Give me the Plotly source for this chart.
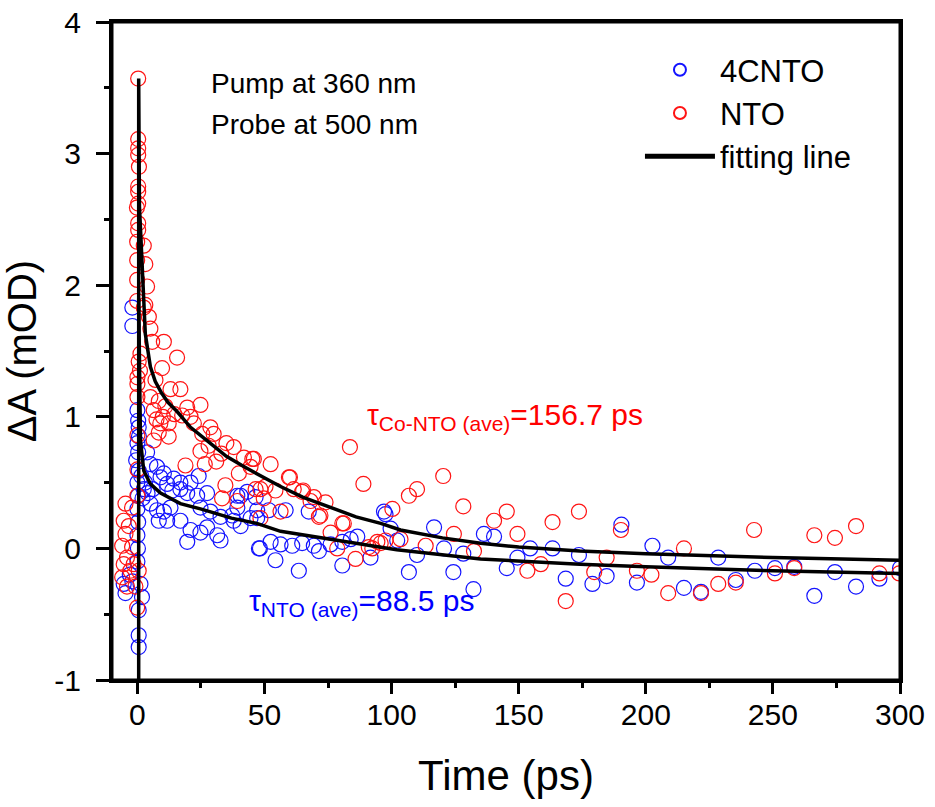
import plotly.graph_objects as go

# ---------------- data ----------------
nto_t = [-6, -6, -5.4, -5.4, -4.7, -4.7, -4.1, -4.1, -3.4, -2.8, -2.1, -2.1, -1.5, -0.8, -0.1, 0.5,
         0.3, 0.3, 0.3, 0.3, 0.6, 0.3, 0.3, 0.3, -0.2, 0.3, 0.3, 2.5, -0.1, 3.1, -0.1, 3.8, -0.1, 2.5, -0.1, 4.5,
         3.1, 5.1, 10.4, 15.6, 5.8, 1.2, 9.7, 7.1, 13, 16.9, 0, 0, 0, 0.5, 1,
         5.1, 6.4, 8.4, 10, 11, 12.3, 14.5, 9, 7.5,
         19.6, 24.8, 20.9, 17.6, 22.2, 25.5, 28.7, 30, 12.3, 8.4, 6.4, 24.8, 18.9, 37.9, 41.9, 45.8, 0, 0, 0,
         33, 35, 31, 28, 26.5,
         45.2, 52.4, 39.9, 44.5, 59.6, 46.5, 50.4, 54.3, 49.7, 56.3, 61.5, 64.8, 68.1, 74, 71.4, 48.4,
         80.6, 76, 78.6, 85.8, 91, 94.4, 97.6, 100.3, 83.6, 88.9, 34.6, 39.3, 33.3, 48.4,
         60, 120.3, 65.2, 106.8, 110, 128.2, 145.3, 173.7, 69.4, 72, 81.2, 92.4, 95.7, 103.5, 113.4,
         124.5, 132.4, 140.3, 149.5, 153.4, 158.7, 163.3, 168.5, 179.7,
         190.2, 242.6, 266.3, 274.4, 282.7, 215, 184.6, 196.5, 202.2, 208.8, 221.7, 228.5, 235.4,
         250.8, 258.4, 291.9, 299.7]
nto_y = [0.02, -0.22, 0.21, -0.12, 0.34, 0.11, -0.07, -0.29, 0.17, -0.17, 0.31, 0.01, -0.12, -0.29, -0.45, -0.17,
         3.57, 3.11, 3.04, 2.99, 2.90, 2.75, 2.71, 2.62, 2.59, 2.47, 2.42, 2.30, 2.33, 2.16, 2.19, 1.99, 2.04, 1.83, 1.88, 1.76,
         1.85, 1.67, 1.57, 1.45, 1.57, 1.48, 1.37, 1.28, 1.21, 1.21, 1.25, 1.30, 1.15, 1.42, 1.35,
         1.15, 1.05, 1.12, 1.00, 1.08, 0.95, 1.02, 0.95, 0.98,
         1.07, 1.09, 1.00, 1.01, 0.95, 0.87, 0.92, 0.87, 0.85, 0.88, 0.82, 0.74, 0.63, 0.77, 0.69, 0.68, 0.86, 0.60, 0.40,
         0.72, 0.80, 0.66, 0.78, 0.64,
         0.68, 0.64, 0.57, 0.62, 0.54, 0.45, 0.47, 0.44, 0.38, 0.28, 0.45, 0.43, 0.36, 0.35, 0.24, 0.23,
         0.19, 0.12, 0.00, -0.08, 0.01, 0.05, 0.06, 0.30, 0.77, 0.49, 0.48, 0.36, 0.38, 0.45,
         0.54, 0.55, 0.44, 0.40, 0.45, 0.32, 0.28, 0.28, 0.39, 0.25, 0.19, 0.00, 0.04, 0.07, 0.02,
         0.11, -0.02, 0.21, 0.11, -0.17, -0.12, 0.20, -0.40, -0.18,
         0.14, 0.14, 0.10, 0.08, 0.17, 0.00, -0.07, -0.17, -0.20, -0.34, -0.34, -0.27, -0.26,
         -0.19, -0.15, -0.19, -0.19]

cnto_t = [-5.4, -4.7, 1.2, 1.8, 0.5, 0.5, 0.5, -3, -2,
          -2, -2, 0, 0.3, 0.5, 0.6, 0, 0.3, -0.5, 0.5, 0, 0.2, 0, 0.3, 0, 0.2, 0,
          3.8, 5.1, 7.7, 10.4, 14.3, 16.9, 20.9, 24.1,
          9.1, 11.7, 13.7, 16.9, 19.6, 23.5, 27.4, 8.4, 11.7, 16.9, 20.9, 24.8, 27.4, 31.4, 32.7, 19.6,
          5.1, 7.7, 10.4, 13, 39.3, 43.2, 46.5, 47.1, 24.8, 28.7, 32.7, 37.9, 47.8,
          2.5, 3, 4, 6, 2, 1.5,
          40.6, 39.3, 37.3, 47.1, 51.7, 58.3, 44.5, 40.6, 52.4, 56.3, 60.9, 64.8, 69.4, 71.4, 76, 80.6, 83.9,
          48.2, 54.3, 63.5, 80.6, 97, 99.6, 102.2,
          67.4, 86.5, 91.7, 97.6, 106.8, 110, 116.7, 120.6, 124.3, 128.2, 132.2, 136.3, 140.3, 145.3,
          149.5, 154.5, 163.3, 168.5, 173.7, 179,
          190.4, 184.6, 196.5, 202.6, 208.8, 215, 221.7, 228.5, 235.4, 242.9, 250.8, 258.4, 266.3, 274.4,
          282.7, 291.9, 300]
cnto_y = [-0.27, -0.34, -0.27, -0.37, -0.47, -0.66, -0.75, -0.20, -0.25,
          1.83, 1.69, 1.05, 0.97, 0.92, 0.85, 0.80, 0.73, 0.67, 0.59, 0.50, 0.40, 0.30, 0.20, 0.10, 0.00, -0.10,
          0.73, 0.64, 0.62, 0.57, 0.53, 0.50, 0.50, 0.55,
          0.54, 0.49, 0.44, 0.45, 0.42, 0.40, 0.42, 0.21, 0.21, 0.21, 0.14, 0.12, 0.16, 0.10, 0.06, 0.05,
          0.34, 0.29, 0.28, 0.31, 0.40, 0.43, 0.39, 0.23, 0.31, 0.28, 0.24, 0.21, 0.00,
          0.45, 0.50, 0.42, 0.45, 0.38, 0.55,
          0.40, 0.31, 0.25, 0.29, 0.29, 0.29, 0.23, 0.17, 0.05, 0.03, 0.02, 0.04, 0.02, -0.02, 0.03, 0.05, 0.07,
          0.00, -0.09, -0.17, -0.13, 0.28, 0.15, 0.06,
          0.28, 0.09, -0.07, 0.26, -0.18, -0.05, 0.16, 0.00, -0.18, -0.04, -0.31, 0.11, 0.09, -0.15,
          -0.07, 0.00, 0.00, -0.23, -0.05, -0.27,
          0.18, -0.21, -0.26, 0.02, -0.07, -0.30, -0.33, -0.07, -0.24, -0.17, -0.15, -0.14, -0.36, -0.18,
          -0.29, -0.23, -0.15]

fit_nto_t = [0.5, 0.5, 0.8, 1.4, 2.0, 2.5, 3.1, 5.1, 7, 9.5, 12, 15.6, 20.9, 28, 35, 42, 48.4, 56.3, 65,
             76, 86, 95.7, 103.5, 120, 135, 150, 174, 200, 250, 300]
fit_nto_y = [-1.1, 3.57, 2.6, 2.35, 2.05, 1.88, 1.63, 1.38, 1.27, 1.18, 1.11, 1.04, 0.92, 0.81, 0.70, 0.62,
             0.55, 0.47, 0.39, 0.31, 0.24, 0.19, 0.14, 0.08, 0.04, 0.01, -0.02, -0.04, -0.07, -0.09]

fit_cnto_t = [0.5, 0.8, 1.2, 2.5, 5.1, 9.1, 16.9, 24.8, 37, 47, 56.3, 76, 96, 102, 135, 174, 200, 250, 300]
fit_cnto_y = [1.9, 1.1, 0.82, 0.59, 0.49, 0.42, 0.34, 0.30, 0.23, 0.19, 0.13, 0.07, 0.01, -0.01, -0.08,
              -0.12, -0.14, -0.17, -0.19]

x_tick_vals = [0, 50, 100, 150, 200, 250, 300]
x_tick_text = ["0", "50", "100", "150", "200", "250", "300"]
y_tick_vals = [-1, 0, 1, 2, 3, 4]
y_tick_text = ["-1", "0", "1", "2", "3", "4"]

FONT = "Arial, Liberation Sans, sans-serif"
RED = "rgb(255,20,20)"
BLUE = "rgb(20,20,255)"

fig = go.Figure()
fig.add_trace(go.Scatter(x=cnto_t, y=cnto_y, mode="markers", name="4CNTO",
                         marker=dict(symbol="circle-open", size=15, color=BLUE, line=dict(width=1.2))))
fig.add_trace(go.Scatter(x=nto_t, y=nto_y, mode="markers", name="NTO",
                         marker=dict(symbol="circle-open", size=15, color=RED, line=dict(width=1.2))))
fig.add_trace(go.Scatter(x=fit_nto_t, y=fit_nto_y, mode="lines", name="fitting line",
                         line=dict(color="black", width=3.5)))
fig.add_trace(go.Scatter(x=fit_cnto_t, y=fit_cnto_y, mode="lines", showlegend=False,
                         line=dict(color="black", width=3.5)))

axis_common = dict(showline=True, linecolor="black", linewidth=3, mirror=True, showgrid=False,
                   zeroline=False, ticks="outside", tickcolor="black", tickwidth=3, automargin=False,
                   tickmode="array", ticklabeloverflow="allow",
                   tickfont=dict(family=FONT, size=30, color="black"))

fig.update_xaxes(range=[-10, 300], tickvals=x_tick_vals, ticktext=x_tick_text, ticklen=11,
                 ticklabelstandoff=-5,
                 minor=dict(tickmode="linear", tick0=0, dtick=25, ticks="outside", ticklen=5,
                            tickwidth=2.5, tickcolor="black"),
                 title=dict(text="Time (ps)", font=dict(family=FONT, size=42, color="black"), standoff=31),
                 **axis_common)
fig.update_yaxes(range=[-1, 4], tickvals=y_tick_vals, ticktext=y_tick_text, ticklen=13,
                 ticklabelstandoff=9,
                 minor=dict(tickmode="linear", tick0=0, dtick=0.5, ticks="outside", ticklen=5,
                            tickwidth=2.5, tickcolor="black"),
                 title=dict(text="ΔA (mOD)", font=dict(family=FONT, size=40, color="black"), standoff=12),
                 **axis_common)

# frame around the plotting area (top/right borders)
fig.add_shape(type="rect", xref="paper", yref="paper", x0=0, x1=1, y0=0, y1=1,
              line=dict(color="black", width=3), fillcolor="rgba(0,0,0,0)", layer="above")

fig.add_annotation(x=28, y=3.53, xref="x", yref="y", text="Pump at 360 nm", showarrow=False,
                   xanchor="left", yanchor="middle", font=dict(family=FONT, size=28, color="black"))
fig.add_annotation(x=28, y=3.22, xref="x", yref="y", text="Probe at 500 nm", showarrow=False,
                   xanchor="left", yanchor="middle", font=dict(family=FONT, size=28, color="black"))
fig.add_annotation(x=89.5, y=0.99, xref="x", yref="y",
                   text="τ<sub>Co-NTO (ave)</sub>=156.7 ps", showarrow=False,
                   xanchor="left", yanchor="top", yshift=22, font=dict(family=FONT, size=30, color="rgb(255,0,0)"))
fig.add_annotation(x=43.3, y=-0.42, xref="x", yref="y",
                   text="τ<sub>NTO (ave)</sub>=88.5 ps", showarrow=False,
                   xanchor="left", yanchor="top", yshift=22, font=dict(family=FONT, size=30, color="rgb(0,0,255)"))

fig.update_layout(
    width=935, height=807,
    margin=dict(l=112, r=35, t=22, b=127),
    paper_bgcolor="white", plot_bgcolor="white",
    showlegend=True,
    legend=dict(x=0.67, y=0.968, xanchor="left", yanchor="top", bgcolor="rgba(0,0,0,0)",
                font=dict(family=FONT, size=31, color="black"), itemsizing="constant",
                itemwidth=70, tracegroupgap=4),
)

fig.write_html("out.html", config={"displayModeBar": False},
               post_script="document.body.style.margin='0';document.body.style.overflow='hidden';")
